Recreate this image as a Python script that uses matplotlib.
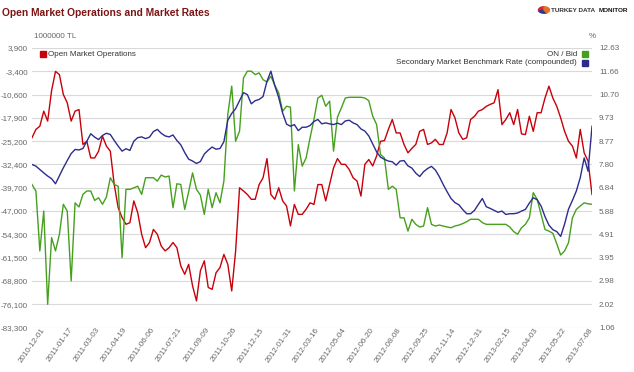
import matplotlib
matplotlib.use('Agg')
import matplotlib.pyplot as plt
import matplotlib.transforms as mtransforms
from matplotlib.patches import Rectangle, Wedge
import numpy as np

# Open Market Operations, 1000000 TL (left axis), roughly weekly readings
oms = [
    -24100, -21500, -20500, -15800, -18900, -9400, -3400, -4400, -10600, -13200,
    -18900, -15800, -15300, -26200, -25200, -30400, -30400, -28300, -23600, -26700,
    -28300, -38700, -45900, -49000, -51100, -50600, -43800, -47500, -54200, -58400,
    -56800, -52700, -54200, -57900, -59400, -58400, -56800, -58400, -64100, -66700,
    -63600, -70300, -75000, -65600, -62500, -70800, -71400, -66200, -64600, -60500,
    -63600, -71900, -59400, -39700, -40700, -41800, -43300, -43300, -38700, -36600,
    -30600, -41800, -43300, -39700, -43800, -45400, -51600, -44900, -48000, -48000,
    -46400, -44400, -44900, -38700, -38700, -43800, -38700, -33500, -30600, -32400,
    -32400, -34000, -36600, -37600, -42300, -32400, -30900, -32900, -29800, -25200,
    -25000, -21500, -18400, -22600, -22600, -26200, -28800, -27400, -26200, -22100,
    -21500, -26200, -25700, -24600, -26200, -26200, -22600, -15300, -17900, -22600,
    -24600, -24100, -18400, -17400, -15800, -15300, -14300, -13700, -13200, -9100,
    -20000, -18400, -16300, -20000, -15300, -22900, -23100, -17400, -22100, -16300,
    -16300, -11700, -8000, -11700, -14300, -17900, -22100, -25200, -26700, -30400,
    -21500, -28800, -31400, -41800]

# ON / Bid, % (right axis)
on_bid = [
    6.98, 6.71, 4.23, 5.88, 2.02, 4.78, 4.23, 4.92, 6.16, 5.88,
    2.99, 6.22, 6.05, 6.57, 6.71, 6.71, 6.32, 6.43, 6.16, 6.46,
    7.26, 6.98, 6.91, 3.95, 6.78, 6.78, 6.84, 6.91, 6.57, 7.26,
    7.26, 7.26, 7.12, 7.37, 7.29, 7.33, 6.02, 7.01, 6.98, 5.95,
    6.68, 7.46, 6.78, 6.54, 5.74, 6.78, 6.02, 6.64, 6.22, 7.12,
    9.88, 11.05, 8.77, 9.19, 11.39, 11.67, 11.67, 11.53, 11.60, 11.32,
    11.22, 11.46, 11.09, 10.77, 10.01, 10.22, 10.18, 6.71, 8.63, 7.74,
    8.08, 8.91, 9.67, 10.56, 10.67, 10.22, 10.43, 8.36, 9.77, 10.15,
    10.56, 10.59, 10.59, 10.59, 10.59, 10.56, 10.45, 9.81, 9.46, 8.22,
    8.08, 6.78, 6.91, 6.78, 5.60, 5.60, 5.05, 5.54, 5.33, 5.22,
    5.26, 6.02, 5.33, 5.26, 5.30, 5.26, 5.22, 5.19, 5.26, 5.30,
    5.36, 5.44, 5.54, 5.54, 5.54, 5.40, 5.33, 5.33, 5.33, 5.33,
    5.33, 5.33, 5.22, 5.03, 4.92, 5.19, 5.33, 5.60, 6.64, 6.36,
    5.74, 5.12, 5.05, 4.96, 4.53, 4.06, 4.23, 4.57, 5.60, 5.95,
    6.09, 6.22, 6.18, 6.16]

# Secondary Market Benchmark Rate (compounded), % (right axis)
benchmark = [
    7.81, 7.74, 7.60, 7.46, 7.33, 7.22, 7.01, 7.34, 7.67, 7.97,
    8.26, 8.43, 8.41, 8.47, 8.77, 9.08, 8.94, 8.84, 9.01, 9.10,
    9.05, 8.80, 8.57, 8.36, 8.46, 8.39, 8.77, 8.92, 8.95, 8.88,
    8.94, 9.17, 9.26, 9.10, 8.99, 8.95, 9.03, 8.80, 8.62, 8.30,
    8.03, 7.95, 7.85, 7.93, 8.24, 8.40, 8.53, 8.44, 8.47, 8.75,
    9.64, 9.92, 10.12, 10.45, 10.78, 10.70, 10.32, 10.45, 10.50, 10.62,
    11.25, 11.67, 11.07, 10.58, 9.94, 9.48, 9.39, 9.46, 9.21, 9.35,
    9.35, 9.42, 9.59, 9.67, 9.49, 9.53, 9.49, 9.46, 9.52, 9.46,
    9.61, 9.64, 9.53, 9.46, 9.28, 9.19, 8.99, 8.66, 8.33, 8.11,
    8.02, 7.95, 7.92, 7.78, 7.95, 7.97, 7.75, 7.66, 7.45, 7.31,
    7.51, 7.64, 7.73, 7.58, 7.31, 6.98, 6.68, 6.40, 6.23, 6.14,
    5.94, 5.77, 5.77, 5.91, 6.16, 6.40, 6.06, 5.99, 5.91, 5.83,
    5.88, 5.74, 5.77, 5.77, 5.80, 5.88, 5.95, 6.21, 6.43, 6.35,
    6.09, 5.65, 5.30, 5.11, 5.03, 4.83, 5.34, 5.96, 6.32, 6.71,
    7.26, 8.08, 7.53, 9.39]

date_labels = ['2010-12-01', '2011-01-17', '2011-03-03', '2011-04-19', '2011-06-06',
               '2011-07-21', '2011-09-09', '2011-10-26', '2011-12-15', '2012-01-31',
               '2012-03-16', '2012-05-04', '2012-06-20', '2012-08-08', '2012-09-25',
               '2012-11-14', '2012-12-31', '2013-02-15', '2013-04-03', '2013-05-22',
               '2013-07-08']
left_labels = ['-83,300', '-76,100', '-68,800', '-61,500', '-54,300', '-47,000', '-39,700',
               '-32,400', '-25,200', '-17,900', '-10,600', '-3,400', '3,900']
right_labels = ['1.06', '2.02', '2.98', '3.95', '4.91', '5.88', '6.84', '7.80', '8.77',
                '9.73', '10.70', '11.66', '12.63']

# Colours
red = '#c8000a'
green = '#46a01e'
blue = '#2c2c8e'
grey = '#666666'

plt.rcParams['font.family'] = ['Liberation Sans', 'DejaVu Sans']
W, H = 634, 372
fig = plt.figure(figsize=(W / 100, H / 100), dpi=100, facecolor='w')


def fx(px):
    return px / W


def fy(py):
    return 1 - py / H


############### Axes #########################################################
left, right, top, bottom = 32, 592, 48, 327.5
ax = fig.add_axes([fx(left), fy(bottom), (right - left) / W, (bottom - top) / H])
ax2 = ax.twinx()

x = np.arange(len(oms))
ax.plot(x, oms, color=red, lw=1.0, solid_joinstyle='round')
ax2.plot(x, on_bid, color=green, lw=1.0, solid_joinstyle='round')
ax2.plot(x, benchmark, color=blue, lw=1.0, solid_joinstyle='round')

ax.set_xlim(0, len(oms) - 1)
ax.set_ylim(-83300, 3900)
ax2.set_ylim(1.06, 12.63)
ax.set_yticks(np.linspace(-83300, 3900, 13))
ax.set_yticklabels(left_labels)
ax2.set_yticks(np.linspace(1.06, 12.63, 13))
ax2.set_yticklabels(right_labels)
ax.grid(axis='y', color='#d9d9d9', lw=0.8)
ax.set_axisbelow(True)

for a in (ax, ax2):
    for s in a.spines.values():
        s.set_visible(False)
    a.tick_params(length=0, labelsize=5.8, labelcolor=grey)
ax.tick_params(axis='y', pad=3)
ax2.tick_params(axis='y', pad=5)

# rotated date labels
tick_idx = [3 + 7 * k for k in range(len(date_labels))]
ax.set_xticks(tick_idx)
ax.set_xticklabels([])
offset = mtransforms.ScaledTranslation(0, -1 / 100, fig.dpi_scale_trans)
for i, lab in zip(tick_idx, date_labels):
    ax.text(i, 0, lab, transform=ax.get_xaxis_transform() + offset, rotation=55,
            ha='right', va='center', rotation_mode='anchor', fontsize=5.8, color=grey)

############### Titles, units, legend ########################################
fig.text(fx(2), fy(13), 'Open Market Operations and Market Rates', fontsize=7.4,
         fontweight='bold', color='#7d1414', ha='left', va='center')
fig.text(fx(34), fy(37), '1000000 TL', fontsize=5.8, color=grey, ha='left', va='center')
fig.text(fx(592), fy(37), '%', fontsize=5.8, color=grey, ha='center', va='center')

fig.patches.append(Rectangle((fx(40), fy(57)), 6 / W, 6 / H, color=red,
                             transform=fig.transFigure, figure=fig))
fig.text(fx(48), fy(54), 'Open Market Operations', fontsize=5.8, color='#333333',
         ha='left', va='center')
fig.patches.append(Rectangle((fx(582), fy(57)), 6 / W, 6 / H, color=green,
                             transform=fig.transFigure, figure=fig))
fig.text(fx(577), fy(54), 'ON / Bid', fontsize=5.8, color='#333333', ha='right', va='center')
fig.patches.append(Rectangle((fx(582), fy(66)), 6 / W, 6 / H, color=blue,
                             transform=fig.transFigure, figure=fig))
fig.text(fx(577), fy(63), 'Secondary Market Benchmark Rate (compounded)', fontsize=5.8,
         color='#333333', ha='right', va='center')

# logo
lx, ly = 544, 10
for t1, t2, c in [(90, 200, '#d8262c'), (200, 300, '#2b3a8f'), (300, 450, '#e0702a')]:
    fig.patches.append(Wedge((fx(lx), fy(ly)), 5.5 / W, t1, t2, color=c,
                             transform=fig.transFigure, figure=fig))
fig.text(fx(551), fy(10), 'TURKEY DATA', fontsize=4.6, fontweight='bold', color='#333333',
         ha='left', va='center')
fig.text(fx(628), fy(10), 'MONITOR', fontsize=4.6, fontweight='heavy', color='#111111',
         ha='right', va='center')

plt.savefig('out.png', dpi=100, facecolor='w')
plt.close()
